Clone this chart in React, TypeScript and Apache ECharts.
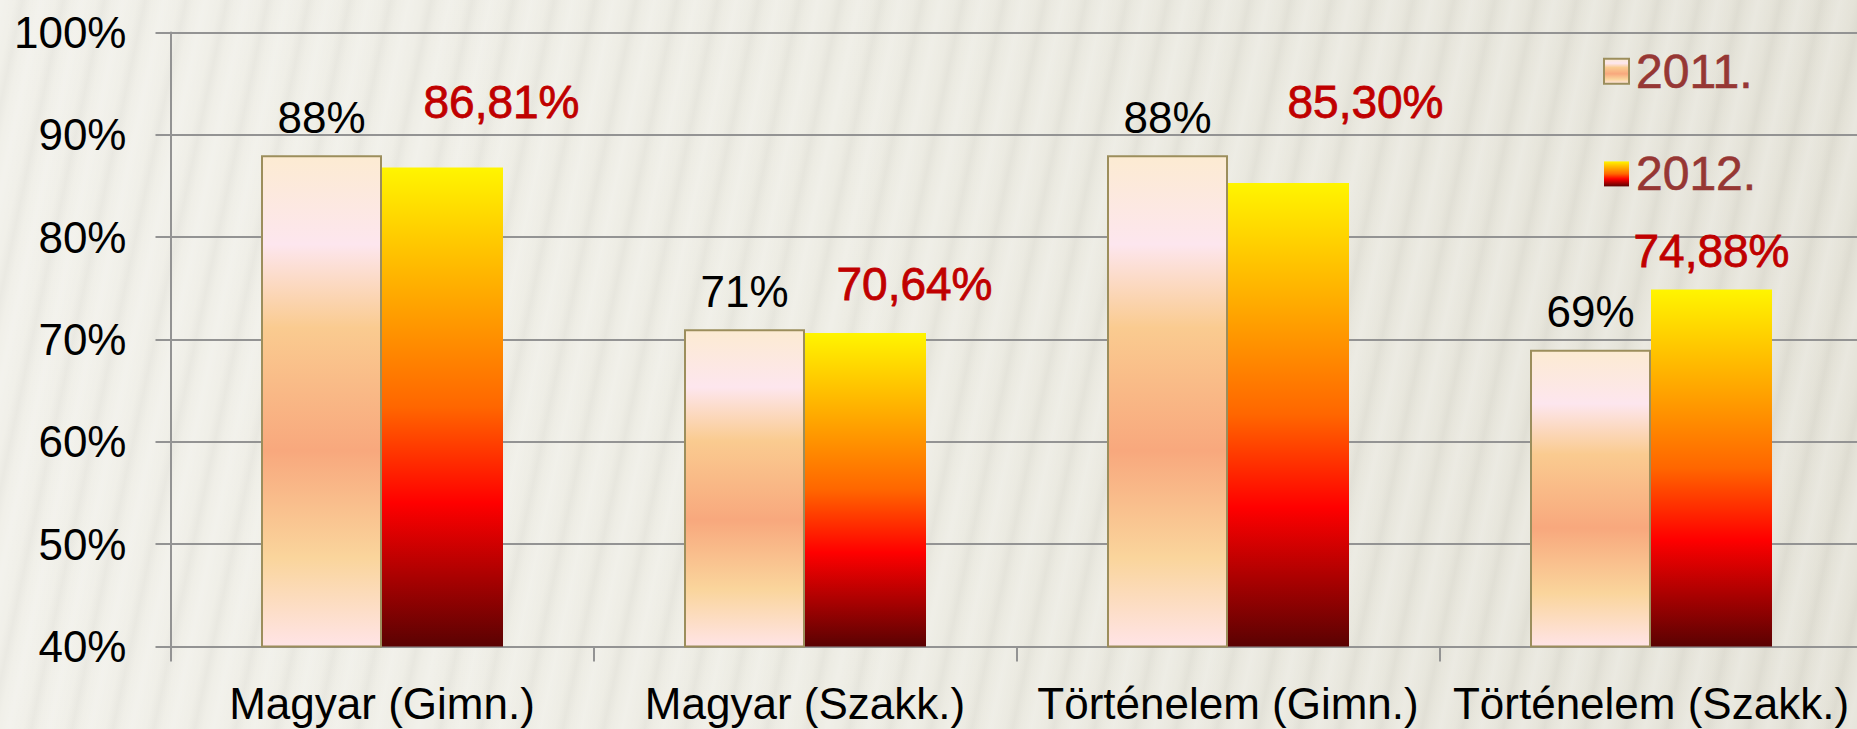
import React, { useEffect, useRef } from "react";
import * as echarts from "echarts";

const categories = ["Magyar (Gimn.)", "Magyar (Szakk.)", "Történelem (Gimn.)", "Történelem (Szakk.)"];
const seriesNames = ["2011.", "2012."];
const values2011 = [88, 71, 88, 69];
const values2012 = [86.81, 70.64, 85.3, 74.88];
const yMin = 40;
const yMax = 100;
const yStep = 10;

// label offsets (styling only): [dx, dy] relative to the default top position
const offsets2011 = [[0, -16], [0, -16], [0, -16], [0, -16]];
const offsets2012 = [[59, -43], [49, -27], [77, -59], [0, -17]];

const FONT = "'Liberation Sans', Arial, sans-serif";

export default function App() {
  const ref = useRef<HTMLDivElement>(null);
  useEffect(() => {
    if (!ref.current) return;
    const chart = echarts.init(ref.current, undefined, { renderer: "svg" });
    const grad2011 = new echarts.graphic.LinearGradient(0, 0, 0, 1, [
      { offset: 0, color: "#FCEBD2" },
      { offset: 0.18, color: "#FDE6EE" },
      { offset: 0.35, color: "#FACB90" },
      { offset: 0.6, color: "#F8A87D" },
      { offset: 0.82, color: "#FAD59C" },
      { offset: 1, color: "#FFE4E6" },
    ]);
    const grad2012 = new echarts.graphic.LinearGradient(0, 0, 0, 1, [
      { offset: 0, color: "#FFF500" },
      { offset: 0.27, color: "#FFA800" },
      { offset: 0.5, color: "#FF6600" },
      { offset: 0.7, color: "#FF0000" },
      { offset: 1, color: "#5A0202" },
    ]);
    const gray = "#939393";
    chart.setOption({
      animation: false,
      backgroundColor: "transparent",
      grid: { left: 170.5, top: 32.5, width: 1692, height: 614 },
      legend: {
        orient: "vertical",
        left: 1598,
        top: 42,
        itemWidth: 25,
        itemHeight: 25,
        itemGap: 54,
        icon: "rect",
        data: seriesNames,
        textStyle: {
          color: "#963734",
          fontFamily: FONT,
          fontSize: 48,
          lineHeight: 48,
          padding: [0, 0, 0, 2],
          textBorderColor: "#963734",
          textBorderWidth: 0.6,
        },
      },
      xAxis: {
        type: "category",
        data: categories,
        axisLine: { show: true, lineStyle: { color: gray, width: 2 } },
        axisTick: { show: true, length: 15, lineStyle: { color: gray, width: 2 } },
        axisLabel: {
          interval: 0,
          margin: 35,
          color: "#000",
          fontFamily: FONT,
          fontSize: 44,
          lineHeight: 44,
        },
      },
      yAxis: {
        type: "value",
        min: yMin,
        max: yMax,
        interval: yStep,
        axisLine: { show: true, lineStyle: { color: gray, width: 2 } },
        axisTick: { show: true, length: 15, lineStyle: { color: gray, width: 2 } },
        splitLine: { show: true, lineStyle: { color: gray, width: 2 } },
        axisLabel: {
          margin: 44,
          color: "#000",
          fontFamily: FONT,
          fontSize: 44,
          formatter: "{value}%",
        },
      },
      series: [
        {
          name: seriesNames[0],
          type: "bar",
          barWidth: 121,
          barGap: "0%",
          itemStyle: { color: grad2011, borderColor: "#9C8E5C", borderWidth: 2 },
          data: values2011.map((v, i) => ({
            value: v,
            label: { offset: offsets2011[i] },
          })),
          label: {
            show: true,
            position: "top",
            distance: 0,
            color: "#000",
            fontFamily: FONT,
            fontSize: 44,
            lineHeight: 44,
            formatter: (p: any) => `${p.value}%`,
          },
        },
        {
          name: seriesNames[1],
          type: "bar",
          barWidth: 121,
          barGap: "0%",
          itemStyle: { color: grad2012 },
          data: values2012.map((v, i) => ({
            value: v,
            label: { offset: offsets2012[i] },
          })),
          label: {
            show: true,
            position: "top",
            distance: 0,
            color: "#C00000",
            fontFamily: FONT,
            fontSize: 46,
            lineHeight: 44,
            textBorderColor: "#C00000",
            textBorderWidth: 0.8,
            formatter: (p: any) => `${Number(p.value).toFixed(2).replace(".", ",")}%`,
          },
        },
      ],
    });
    return () => chart.dispose();
  }, []);

  return (
    <div
      style={{
        position: "fixed",
        left: 0,
        top: 0,
        width: 1857,
        height: 729,
        overflow: "hidden",
        background:
          "repeating-linear-gradient(102deg, rgba(255,255,255,0.22) 0px, rgba(255,255,255,0.05) 14px, rgba(0,0,0,0.025) 22px, rgba(255,255,255,0.05) 30px, rgba(255,255,255,0.22) 40px), linear-gradient(90deg, #F0EFE8 0%, #ECEBE2 45%, #E3E1D6 100%)",
      }}
    >
      <div ref={ref} style={{ width: 1868, height: 729 }} />
    </div>
  );
}
